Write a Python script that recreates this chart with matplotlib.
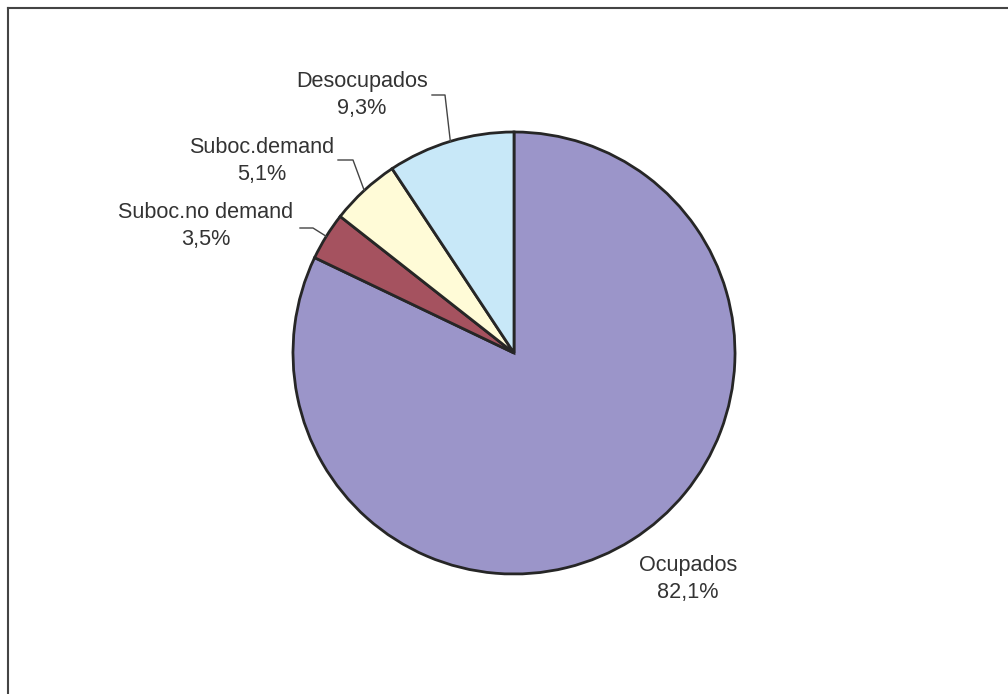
import numpy as np
import matplotlib
matplotlib.use("Agg")
import matplotlib.pyplot as plt
from matplotlib.lines import Line2D

# values in pie order (clockwise from the top)
labels = ["Ocupados", "Suboc.no demand", "Suboc.demand", "Desocupados"]
values = [82.1, 3.5, 5.1, 9.3]
colors = ["#9b95c9", "#a5525f", "#fffbd7", "#c8e8f8"]

W, H = 1008, 694
cx, cy, R = 514, 353, 221  # pie centre and radius in pixels

plt.rcParams["font.family"] = ["Liberation Sans", "DejaVu Sans"]

fig = plt.figure(figsize=(W / 100, H / 100), dpi=100)
ax = fig.add_axes([0, 0, 1, 1])

wedges, _ = ax.pie(values, colors=colors, startangle=90, counterclock=False,
                   radius=1, wedgeprops=dict(edgecolor="#262626", linewidth=2))

# pie resets the limits, so set them afterwards
ax.set_xlim(-cx / R, (W - cx) / R)
ax.set_ylim(-(H - cy) / R, cy / R)
ax.set_aspect("equal")
ax.axis("off")

def px(x, y):
    # pixel position -> data coords
    return (x - cx) / R, (cy - y) / R

# label text centres and leader anchors (pixels)
text_pos = [(688, 579), (206, 226), (262, 161), (362, 95)]
leaders = [None, (300, 228, 313), (338, 160, 353), (432, 95, 445)]

for i, w in enumerate(wedges):
    txt = "%s\n%s%%" % (labels[i], ("%.1f" % values[i]).replace(".", ","))
    tx, ty = px(*text_pos[i])
    ax.text(tx, ty, txt, ha="center", va="center", fontsize=15.6,
            color="#333333", linespacing=1.42)
    if leaders[i] is not None:
        mid = np.deg2rad((w.theta1 + w.theta2) / 2)
        ex, ey = np.cos(mid), np.sin(mid)
        x0, y0, x1 = leaders[i]
        ax0, ay0 = px(x0, y0)
        ax1, _ = px(x1, y0)
        ax.plot([ax0, ax1, ex], [ay0, ay0, ey], color="#444444", lw=1)

# partial frame: top and left border
fig.add_artist(Line2D([8 / W, 1], [1 - 7.5 / H, 1 - 7.5 / H], color="#444444", lw=1.5))
fig.add_artist(Line2D([8 / W, 8 / W], [0, 1 - 7.5 / H], color="#444444", lw=1.5))

fig.savefig("out.png", dpi=100)
